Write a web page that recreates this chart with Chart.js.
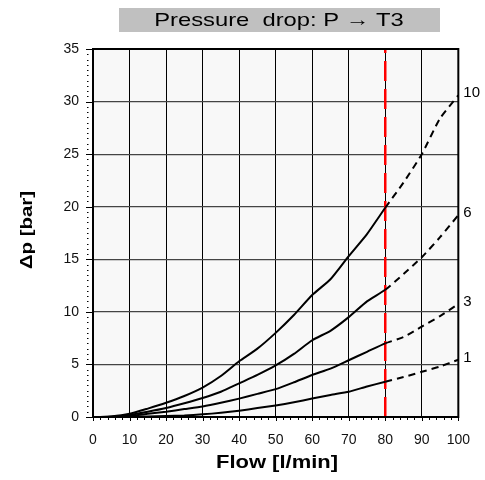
<!DOCTYPE html>
<html>
<head>
<meta charset="utf-8">
<script src="https://cdn.jsdelivr.net/npm/chart.js@4"></script>
<style>
  html, body { margin: 0; padding: 0; background: #fff; }
  #wrap { width: 485px; height: 480px; }
</style>
</head>
<body>
<div id="wrap"><canvas id="chart" width="485" height="480"></canvas></div>
<script>
// Flow values (l/min) shared by all curves
const flow = [1, 5, 10, 15, 20, 25, 30, 35, 40, 45, 50, 55, 60, 65, 70, 75, 80, 85, 90, 95, 100];
// Pressure drop (bar) for each curve
const curve10 = [0, 0.05, 0.3, 0.8, 1.35, 2.0, 2.8, 3.9, 5.3, 6.5, 8.0, 9.7, 11.6, 13.1, 15.3, 17.4, 19.9, 22.3, 25.0, 28.4, 30.6];
const curve6 = [0, 0.03, 0.2, 0.5, 0.85, 1.3, 1.8, 2.4, 3.2, 4.0, 4.9, 6.0, 7.3, 8.2, 9.5, 11.0, 12.1, 13.6, 15.2, 17.1, 19.2];
const curve3 = [0, 0.02, 0.1, 0.3, 0.5, 0.75, 1.0, 1.35, 1.75, 2.2, 2.65, 3.3, 4.0, 4.6, 5.4, 6.2, 7.0, 7.6, 8.6, 9.6, 10.75];
const curve1 = [0, 0, 0.02, 0.05, 0.1, 0.15, 0.25, 0.4, 0.6, 0.85, 1.1, 1.4, 1.75, 2.1, 2.4, 2.9, 3.35, 3.8, 4.3, 4.8, 5.45];
const curveLabels = ["10", "6", "3", "1"];
const limitFlow = 80; // red dashed limit, dashed curves beyond it
const xTicks = [0, 10, 20, 30, 40, 50, 60, 70, 80, 90, 100];
const yTicks = [0, 5, 10, 15, 20, 25, 30, 35];

const FONT = "'Liberation Sans', Arial, sans-serif";

function toPoints(ys) {
  return flow.map((x, i) => ({ x: x, y: ys[i] }));
}

function curveSet(ys, name) {
  return {
    label: name,
    data: toPoints(ys),
    borderColor: "#000",
    borderWidth: 2,
    pointRadius: 0,
    tension: 0.2,
    fill: false,
    segment: {
      borderDash: ctx => (ctx.p0.parsed.x >= limitFlow ? [7, 5] : undefined)
    }
  };
}

// text looks a bit wide in the original, so stretch it along its direction
function wideText(c, txt, x, y, font, stretch, angle) {
  c.save();
  c.translate(x, y);
  if (angle) c.rotate(angle);
  c.scale(stretch, 1);
  c.font = font;
  c.fillStyle = "#000";
  c.textAlign = "center";
  c.textBaseline = "middle";
  c.fillText(txt, 0, 0);
  c.restore();
}

// background, frame, minor ticks, titles, curve names
const decor = {
  id: "decor",
  beforeDraw(chart) {
    const c = chart.ctx, a = chart.chartArea;
    c.save();
    c.fillStyle = "#f8f8f8";
    c.fillRect(a.left, a.top, a.right - a.left, a.bottom - a.top);
    // title box
    c.fillStyle = "#c0c0c0";
    c.fillRect(119, 8, 321, 24);
    c.restore();
    wideText(c, "Pressure  drop: P \u2192 T3", 279, 20.5, "19px " + FONT, 1.25, 0);
    wideText(c, "Flow [l/min]", 277, 463, "bold 18px " + FONT, 1.22, 0);
    wideText(c, "\u0394p [bar]", 27, 230, "bold 17px " + FONT, 1.2, -Math.PI / 2);
  },
  afterDraw(chart) {
    const c = chart.ctx, a = chart.chartArea;
    const xs = chart.scales.x, ys = chart.scales.y;
    c.save();
    c.strokeStyle = "#000";
    c.lineWidth = 2;
    c.strokeRect(a.left, a.top, a.right - a.left, a.bottom - a.top);
    // minor ticks on y (dotted column)
    c.lineWidth = 1;
    for (let v = 0; v <= 35; v += 0.5) {
      const py = Math.round(ys.getPixelForValue(v)) + 0.5;
      c.beginPath();
      if (v % 5 === 0) {
        c.moveTo(a.left - 7, py);
        c.lineTo(a.left, py);
      } else {
        c.moveTo(a.left - 6, py);
        c.lineTo(a.left - 4.5, py);
      }
      c.stroke();
    }
    // minor ticks on x
    for (let v = 0; v <= 100; v += 2) {
      const px = Math.round(xs.getPixelForValue(v)) + 0.5;
      c.beginPath();
      c.moveTo(px, a.bottom);
      c.lineTo(px, a.bottom + (v % 10 === 0 ? 4 : 3));
      c.stroke();
    }
    // curve names at the right end
    c.fillStyle = "#000";
    c.font = "15px " + FONT;
    c.textAlign = "left";
    c.textBaseline = "middle";
    [curve10, curve6, curve3, curve1].forEach((ysr, i) => {
      const last = ysr.length - 1;
      c.fillText(curveLabels[i], xs.getPixelForValue(flow[last]) + 5, ys.getPixelForValue(ysr[last]) - 2);
    });
    c.restore();
  }
};

new Chart(document.getElementById("chart"), {
  type: "line",
  data: {
    datasets: [
      curveSet(curve10, "10"),
      curveSet(curve6, "6"),
      curveSet(curve3, "3"),
      curveSet(curve1, "1"),
      {
        label: "limit",
        data: [{ x: limitFlow, y: 0 }, { x: limitFlow, y: 35 }],
        borderColor: "#ff0000",
        borderWidth: 2.5,
        borderDash: [20, 8],
        pointRadius: 0,
        fill: false
      }
    ]
  },
  plugins: [decor],
  options: {
    responsive: false,
    animation: false,
    layout: { padding: { left: 0, right: 26, top: 49, bottom: 0 } },
    plugins: { legend: { display: false }, tooltip: { enabled: false }, title: { display: false } },
    scales: {
      x: {
        type: "linear",
        min: 0,
        max: 100,
        afterBuildTicks: s => { s.ticks = xTicks.map(v => ({ value: v })); },
        afterFit: s => { s.height = 63; },
        grid: { color: "#000", lineWidth: 1, drawTicks: false },
        border: { display: false },
        ticks: { color: "#111", font: { family: FONT, size: 14 }, padding: 15, maxRotation: 0 }
      },
      y: {
        type: "linear",
        min: 0,
        max: 35,
        afterBuildTicks: s => { s.ticks = yTicks.map(v => ({ value: v })); },
        afterFit: s => { s.width = 93; },
        grid: { color: "#444", lineWidth: 1.2, drawTicks: false },
        border: { display: false },
        ticks: { color: "#111", font: { family: FONT, size: 14 }, padding: 14 }
      }
    }
  }
});
</script>
</body>
</html>
